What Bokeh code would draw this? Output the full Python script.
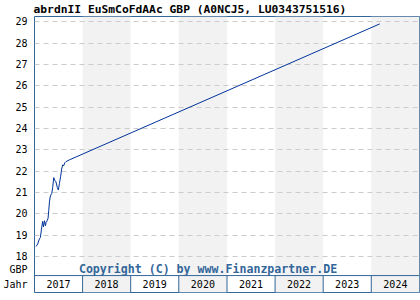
from datetime import datetime
from bokeh.plotting import figure
from bokeh.models import Range1d, FixedTicker, Span
from bokeh.core.properties import value
from bokeh.embed import file_html
from bokeh.resources import INLINE

title_text = "abrdnII EuSmCoFdAAc GBP (A0NCJ5, LU0343751516)"
copyright_text = "Copyright (C) by www.Finanzpartner.DE"

dates = ["2017-01-13", "2017-01-25", "2017-02-07", "2017-02-15", "2017-02-22",
         "2017-03-04", "2017-03-10", "2017-03-18", "2017-03-25", "2017-03-30",
         "2017-04-07", "2017-04-14", "2017-04-19", "2017-04-25", "2017-05-02",
         "2017-05-12", "2017-05-19", "2017-05-27", "2017-06-03", "2017-06-13",
         "2017-06-23", "2017-07-01", "2017-07-09", "2017-07-18", "2017-07-26",
         "2017-08-03", "2017-08-10", "2017-08-20", "2017-08-28", "2017-09-22",
         "2024-03-05"]
prices = [18.48, 18.59, 18.83, 18.90, 19.25,
          19.65, 19.40, 19.68, 19.45, 19.60,
          19.68, 19.80, 20.15, 20.60, 20.85,
          20.96, 21.24, 21.70, 21.58, 21.50,
          21.24, 21.12, 21.42, 21.74, 22.10,
          22.30, 22.25, 22.40, 22.45, 22.53,
          28.90]
years = [2017, 2018, 2019, 2020, 2021, 2022, 2023, 2024]
y_ticks = [18, 19, 20, 21, 22, 23, 24, 25, 26, 27, 28, 29]
unit_label = "GBP"
year_label = "Jahr"

Y_MIN, Y_MAX = 16.32, 29.247
BAND_TOP = 17.113
GBP_POS, JAHR_POS = 17.39, 16.69
BLUE = "#336699"
MONO = "DejaVu Sans Mono"

x = [datetime.strptime(d, "%Y-%m-%d") for d in dates]

p = figure(width=420, height=300, output_backend="svg", toolbar_location=None,
           x_axis_type="datetime",
           x_range=Range1d(datetime(years[0], 1, 1), datetime(years[-1] + 1, 1, 1)),
           y_range=Range1d(Y_MIN, Y_MAX),
           min_border_left=32, min_border_right=1, min_border_top=0, min_border_bottom=8)

p.title.text = title_text
p.title.text_font = MONO
p.title.text_font_size = "11.3px"
p.title.text_font_style = "bold"
p.title.text_color = "black"
p.title.offset = -1
p.title.standoff = 1

p.outline_line_color = BLUE
p.outline_line_width = 1
p.background_fill_color = "white"
p.border_fill_color = "white"

p.xaxis.visible = False
p.xgrid.visible = False

yax = p.yaxis[0]
yax.ticker = FixedTicker(ticks=y_ticks + [GBP_POS, JAHR_POS])
yax.major_label_overrides = {GBP_POS: unit_label, JAHR_POS: year_label}
yax.axis_line_color = None
yax.major_tick_line_color = None
yax.minor_tick_line_color = None
yax.major_tick_out = 0
yax.major_tick_in = 0
yax.minor_tick_out = 0
yax.minor_tick_in = 0
yax.major_label_text_font = MONO
yax.major_label_text_font_size = "10px"
yax.major_label_text_color = "black"
yax.major_label_standoff = 7

p.ygrid.ticker = FixedTicker(ticks=y_ticks)
p.ygrid.grid_line_color = "#cccccc"
p.ygrid.grid_line_dash = "5 4"
p.ygrid.grid_line_width = 1

# alternating year bands
shade = [y for i, y in enumerate(years) if i % 2 == 1]
p.quad(left=[datetime(y, 1, 1) for y in shade], right=[datetime(y + 1, 1, 1) for y in shade],
       bottom=Y_MIN, top=Y_MAX, fill_color="#f2f2f2", line_color=None, level="underlay")

# year row
p.add_layout(Span(location=BAND_TOP, dimension="width", line_color=BLUE, line_width=1))
p.segment(x0=[datetime(y, 1, 1) for y in years[1:]], y0=Y_MIN,
          x1=[datetime(y, 1, 1) for y in years[1:]], y1=BAND_TOP,
          line_color=BLUE, line_width=1)
p.text(x=[datetime(y, 7, 2) for y in years], y=[(Y_MIN + BAND_TOP) / 2] * len(years),
       text=[str(y) for y in years], text_font=value(MONO), text_font_size="10px",
       text_align="center", text_baseline="middle", text_color="black")

# copyright
p.text(x=[datetime(2020, 8, 10)], y=[17.40], text=[copyright_text], text_font=value(MONO),
       text_font_size="11.6px", text_font_style="bold", text_align="center",
       text_baseline="middle", text_color=BLUE)

p.line(x=x, y=prices, line_color="#003399", line_width=1)

open("out.html", "w").write(file_html(p, INLINE))
